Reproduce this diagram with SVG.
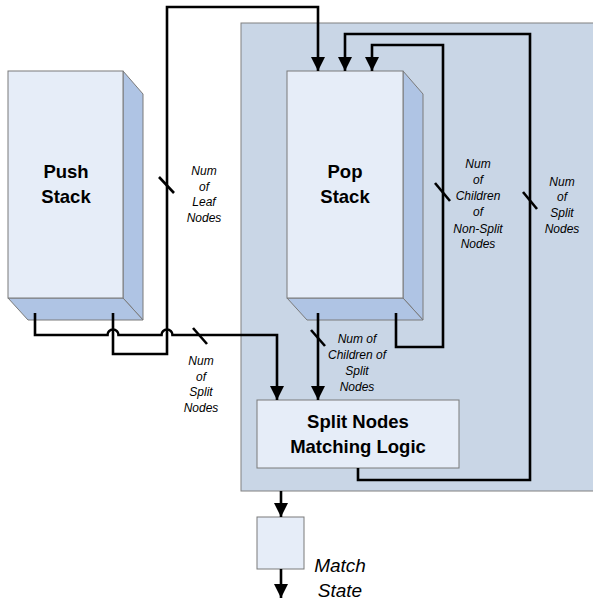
<svg xmlns="http://www.w3.org/2000/svg" width="593" height="604" viewBox="0 0 593 604">
<defs>
<style>
.front{fill:#e6edf8;stroke:#7a7a7a;stroke-width:1}
.side{fill:#afc4e4;stroke:#7a7a7a;stroke-width:1}
.wire{fill:none;stroke:#000;stroke-width:2.6}
.slash{stroke:#000;stroke-width:2.6}
.title{font-family:"Liberation Sans",Arial,sans-serif;font-weight:bold;font-size:18.5px;text-anchor:middle;fill:#000}
.lbl{font-family:"Liberation Sans",Arial,sans-serif;font-style:italic;font-size:12px;text-anchor:middle;fill:#000}
.big{font-family:"Liberation Sans",Arial,sans-serif;font-style:italic;font-size:19px;text-anchor:middle;fill:#000}
</style>
<marker id="ah" markerUnits="userSpaceOnUse" markerWidth="16" markerHeight="16" viewBox="0 0 16 16" refX="14" refY="8" orient="auto">
<path d="M0,1 L14,8 L0,15 Z" fill="#000"/>
</marker>
</defs>
<rect id="panel" x="241" y="23" width="360" height="468" fill="#c9d6e6" stroke="#808080" stroke-width="1"/>
<g id="push-stack">
<polygon class="side" points="123,71 143,94 143,320 123,298"/>
<polygon class="side" points="8,298 123,298 143,320 28,320"/>
<rect class="front" x="8" y="71" width="115" height="227"/>
<text class="title" x="66" y="178">Push</text>
<text class="title" x="66" y="203">Stack</text>
</g>
<g id="pop-stack">
<polygon class="side" points="403,71 423,94 423,320 403,298"/>
<polygon class="side" points="287,298 403,298 423,320 307,320"/>
<rect class="front" x="287" y="71" width="116" height="227"/>
<text class="title" x="345" y="178">Pop</text>
<text class="title" x="345" y="203">Stack</text>
</g>
<g id="split-logic">
<rect class="front" x="257" y="400" width="202" height="68"/>
<text class="title" x="358" y="428">Split Nodes</text>
<text class="title" x="358" y="453">Matching Logic</text>
</g>
<g id="match-state">
<rect class="front" x="257" y="517" width="47" height="52"/>
<text class="big" x="340" y="572">Match</text>
<text class="big" x="340" y="597">State</text>
</g>
<g id="connectors">
<path class="wire" d="M113,313 V354 H167 V7 H318 V71" marker-end="url(#ah)"/>
<path class="wire" d="M35,313 V335 H107.5 a5.5,5.5 0 0 1 11,0 H161.5 a5.5,5.5 0 0 1 11,0 H277 V400" marker-end="url(#ah)"/>
<path class="wire" d="M318,313 V400" marker-end="url(#ah)"/>
<path class="wire" d="M396,313 V347 H443 V45 H372 V71" marker-end="url(#ah)"/>
<path class="wire" d="M358,468 V480 H530 V34 H345 V71" marker-end="url(#ah)"/>
<path class="wire" d="M281,491 V517" marker-end="url(#ah)"/>
<path class="wire" d="M281,569 V598" marker-end="url(#ah)"/>
<line class="slash" x1="159" y1="177" x2="174" y2="193"/>
<line class="slash" x1="435" y1="183" x2="450" y2="201"/>
<line class="slash" x1="523" y1="192" x2="537" y2="209"/>
<line class="slash" x1="193" y1="328" x2="207" y2="344"/>
<line class="slash" x1="311" y1="330" x2="325" y2="346"/>
</g>
<g id="labels">
<text class="lbl" x="204" y="175">Num</text>
<text class="lbl" x="204" y="191">of</text>
<text class="lbl" x="204" y="206">Leaf</text>
<text class="lbl" x="204" y="222">Nodes</text>
<text class="lbl" x="478" y="168">Num</text>
<text class="lbl" x="478" y="184">of</text>
<text class="lbl" x="478" y="200">Children</text>
<text class="lbl" x="478" y="216">of</text>
<text class="lbl" x="478" y="233">Non-Split</text>
<text class="lbl" x="478" y="248">Nodes</text>
<text class="lbl" x="562" y="186">Num</text>
<text class="lbl" x="562" y="201">of</text>
<text class="lbl" x="562" y="217">Split</text>
<text class="lbl" x="562" y="233">Nodes</text>
<text class="lbl" x="201" y="365">Num</text>
<text class="lbl" x="201" y="381">of</text>
<text class="lbl" x="201" y="396">Split</text>
<text class="lbl" x="201" y="412">Nodes</text>
<text class="lbl" x="357" y="343">Num of</text>
<text class="lbl" x="357" y="359">Children of</text>
<text class="lbl" x="357" y="375">Split</text>
<text class="lbl" x="357" y="391">Nodes</text>
</g>
</svg>
